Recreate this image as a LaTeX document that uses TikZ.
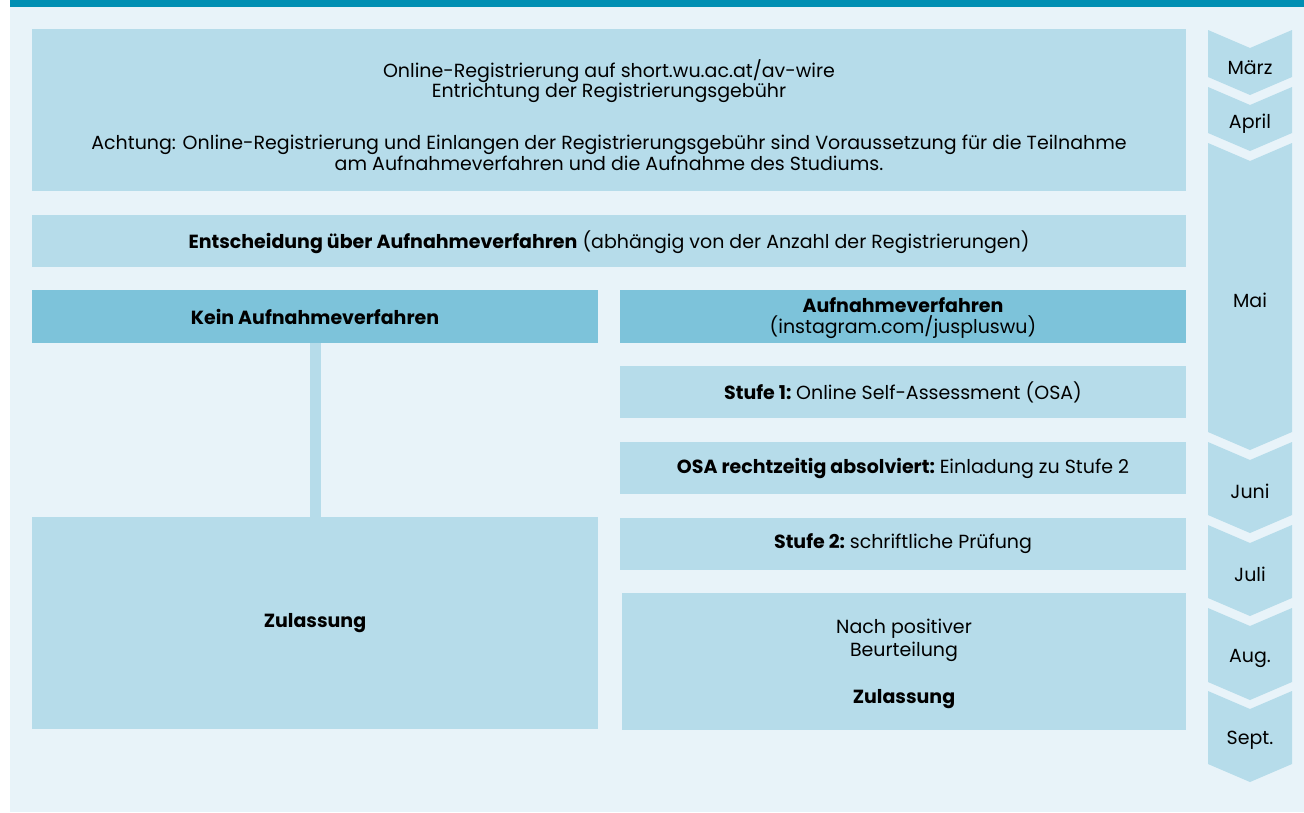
\documentclass[tikz,border=0pt]{standalone}
\usepackage{fontspec}
\setmainfont{Poppins}
\definecolor{bgc}{HTML}{E8F3F9}
\definecolor{topbar}{HTML}{008FB3}
\definecolor{boxc}{HTML}{B6DCEA}
\definecolor{headc}{HTML}{7DC3DA}
\begin{document}
\begin{tikzpicture}[x=1pt,y=-1pt,
  every node/.style={font=\fontsize{19}{20.5}\selectfont, text=black},
  box/.style={fill=boxc, inner sep=0pt, align=center},
  head/.style={fill=headc, inner sep=0pt, align=center},
  txt/.style={inner sep=0pt, align=center},
  chev/.style={fill=boxc}]
\useasboundingbox (0,0) rectangle (1304,812);
\fill[bgc] (10,0) rectangle (1304,812);
\fill[topbar] (10,0) rectangle (1304,7);

% top registration box
\node[box, minimum width=1154pt, minimum height=162pt] (reg) at (609,110) {};
\node[txt] (regA) at (609,81) {Online-Registrierung auf short.wu.ac.at/av-wire\\Entrichtung der Registrierungsgebühr};
\node[txt] (regB) at (609,153) {Achtung: Online-Registrierung und Einlangen der Registrierungsgebühr sind Voraussetzung für die Teilnahme\\am Aufnahmeverfahren und die Aufnahme des Studiums.};

% decision
\node[box, minimum width=1154pt, minimum height=52pt] (dec) at (609,241) {};
\node[txt] (decT) at (609,242) {\textbf{Entscheidung über Aufnahmeverfahren} (abhängig von der Anzahl der Registrierungen)};

% left branch
\node[head, minimum width=566pt, minimum height=53pt] (kein) at (315,316.5) {\textbf{Kein Aufnahmeverfahren}};
\node[box, minimum width=566pt, minimum height=212pt] (zulL) at (315,623) {\textbf{Zulassung}};
\draw[boxc, line width=11pt] (kein.south) ++(0.5,0) coordinate (kc) -- (kc |- zulL.north);

% right branch
\node[head, minimum width=566pt, minimum height=53pt] (auf) at (903,316.5) {};
\node[txt] (aufT) at (903,318) {\textbf{Aufnahmeverfahren}\\(instagram.com/juspluswu)};
\node[box, minimum width=566pt, minimum height=52pt] (st1) at (903,392) {\textbf{Stufe 1:}\hspace{-2pt} Online Self-Assessment (OSA)};
\node[box, minimum width=566pt, minimum height=52pt] (osa) at (903,468) {\textbf{OSA rechtzeitig absolviert:}\hspace{-2pt} Einladung zu Stufe 2};
\node[box, minimum width=566pt, minimum height=52pt] (st2) at (903,544) {\textbf{Stufe 2:}\hspace{-2pt} schriftliche Prüfung};
\node[box, minimum width=564pt, minimum height=137pt] (zulR) at (904,661.5) {};
\node[txt] (zulRa) at (904,640) {Nach positiver\\[2.5pt]Beurteilung};
\node[txt] (zulRb) at (904,699) {\textbf{Zulassung}};

% month chevrons
\foreach \t/\b/\lab/\ly [count=\i] in {30/77/März/68, 87/133/April/124, 143/432/Mai/300, 442/515/Juni/491, 525/598/Juli/574, 608/682/Aug./658, 691/764/Sept./740}{
  \fill[chev] (1208,\t) -- (1250,\t+18) -- (1292,\t) -- (1292,\b) -- (1250,\b+18) -- (1208,\b) -- cycle;
  \node[txt] (m\i) at (1250,\ly) {\lab};
}
\end{tikzpicture}
\end{document}
